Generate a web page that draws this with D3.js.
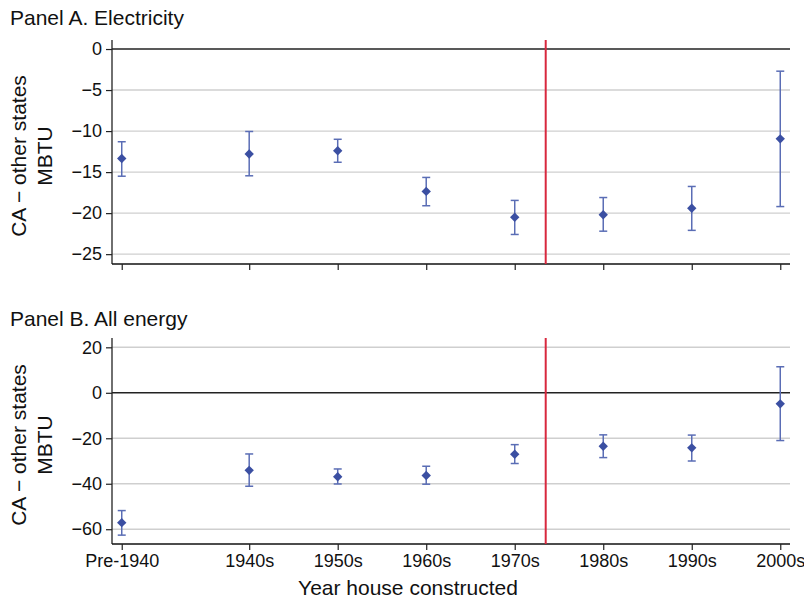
<!DOCTYPE html>
<html>
<head>
<meta charset="utf-8">
<script src="https://cdn.jsdelivr.net/npm/d3@7"></script>
<style>
  body { margin: 0; background: #fff; }
  svg { display: block; font-family: "Liberation Sans", Arial, sans-serif; }
</style>
</head>
<body>
<svg id="chart" width="804" height="601"></svg>
<script>
// decades on the x axis (numeric position, label)
const labels = ["Pre-1940", "1940s", "1950s", "1960s", "1970s", "1980s", "1990s", "2000s"];
const xpos = [1930.6, 1945, 1955, 1965, 1975, 1985, 1995, 2005];
const cutoff = 1978.5;

// Panel A: electricity
const elecEst = [-13.35, -12.8, -12.4, -17.35, -20.5, -20.2, -19.4, -10.95];
const elecLo  = [-15.5, -15.45, -13.8, -19.1, -22.6, -22.2, -22.1, -19.2];
const elecHi  = [-11.3, -10.05, -11.0, -15.65, -18.45, -18.1, -16.75, -2.7];
const elecTicks = [0, -5, -10, -15, -20, -25];

// Panel B: all energy
const allEst = [-57.1, -34.1, -36.9, -36.4, -27.0, -23.5, -24.2, -4.85];
const allLo  = [-62.6, -41.1, -40.1, -40.2, -31.1, -28.5, -30.0, -21.0];
const allHi  = [-51.8, -26.9, -33.5, -32.3, -22.8, -18.5, -18.6, 11.45];
const allTicks = [20, 0, -20, -40, -60];

const svg = d3.select("#chart");
const left = 112, right = 790;
const x = d3.scaleLinear().domain([1929.5, 2006.1]).range([left, right]);

const blue = "#3b4fa2", ciBlue = "#5a6db5", red = "#d8283e";

function panel(title, titleY, top, bottom, domain, ticks, est, lo, hi, showLabels) {
  const y = d3.scaleLinear().domain(domain).range([bottom, top]);
  const g = svg.append("g");

  g.append("text").attr("x", 10).attr("y", titleY)
    .attr("font-size", 21).attr("fill", "#111").text(title);

  // gridlines
  g.selectAll(".grid").data(ticks).join("line")
    .attr("x1", left).attr("x2", right)
    .attr("y1", d => y(d)).attr("y2", d => y(d))
    .attr("stroke", d => d === 0 ? "#222" : "#cfcfcf")
    .attr("stroke-width", 1.4);

  // y axis
  const ya = g.append("g").attr("transform", `translate(${left},0)`)
    .call(d3.axisLeft(y).tickValues(ticks).tickSize(6).tickPadding(4)
      .tickFormat(d => d < 0 ? "\u2212" + Math.abs(d) : d));
  ya.select(".domain").attr("d", `M0,${top}V${bottom}`).attr("stroke", "#222").attr("stroke-width", 1.3);
  ya.selectAll(".tick line").attr("stroke", "#222").attr("stroke-width", 1.2);
  ya.selectAll(".tick text").attr("font-size", 18).attr("fill", "#111").attr("font-family", null);

  // x axis
  const xa = g.append("g").attr("transform", `translate(0,${bottom})`)
    .call(d3.axisBottom(x).tickValues(xpos).tickSize(6).tickPadding(4)
      .tickFormat((d, i) => showLabels ? labels[i] : ""));
  xa.select(".domain").attr("d", `M${left},0H${right}`).attr("stroke", "#111").attr("stroke-width", 1.6);
  xa.selectAll(".tick line").attr("stroke", "#222").attr("stroke-width", 1.2);
  xa.selectAll(".tick text").attr("font-size", 18).attr("fill", "#111").attr("font-family", null);

  // cutoff line
  g.append("line").attr("x1", x(cutoff)).attr("x2", x(cutoff))
    .attr("y1", top).attr("y2", bottom)
    .attr("stroke", red).attr("stroke-width", 2);

  // error bars
  const idx = d3.range(est.length);
  const ci = g.selectAll(".ci").data(idx).join("g").attr("stroke", ciBlue).attr("stroke-width", 1.5);
  ci.append("line").attr("x1", i => x(xpos[i])).attr("x2", i => x(xpos[i]))
    .attr("y1", i => y(lo[i])).attr("y2", i => y(hi[i]));
  ci.append("line").attr("x1", i => x(xpos[i]) - 4).attr("x2", i => x(xpos[i]) + 4)
    .attr("y1", i => y(lo[i])).attr("y2", i => y(lo[i]));
  ci.append("line").attr("x1", i => x(xpos[i]) - 4).attr("x2", i => x(xpos[i]) + 4)
    .attr("y1", i => y(hi[i])).attr("y2", i => y(hi[i]));

  // point estimates
  g.selectAll(".pt").data(idx).join("path")
    .attr("d", d3.symbol(d3.symbolSquare, 44))
    .attr("transform", i => `translate(${x(xpos[i])},${y(est[i])}) rotate(45)`)
    .attr("fill", blue);

  // y title
  const cy = (top + bottom) / 2 + 4;
  const yt = g.append("text").attr("transform", `translate(0,${cy}) rotate(-90)`)
    .attr("text-anchor", "middle").attr("font-size", 21).attr("fill", "#111");
  yt.append("tspan").attr("x", 0).attr("y", 26).text("CA \u2212 other states");
  yt.append("tspan").attr("x", 0).attr("y", 52).text("MBTU");
}

panel("Panel A. Electricity", 25, 40, 264, [-26.2, 1.1], elecTicks, elecEst, elecLo, elecHi, false);
panel("Panel B. All energy", 326, 338, 544, [-66.5, 24.1], allTicks, allEst, allLo, allHi, true);

svg.append("text").attr("x", 408).attr("y", 595)
  .attr("text-anchor", "middle").attr("font-size", 21).attr("fill", "#111")
  .text("Year house constructed");
</script>
</body>
</html>
